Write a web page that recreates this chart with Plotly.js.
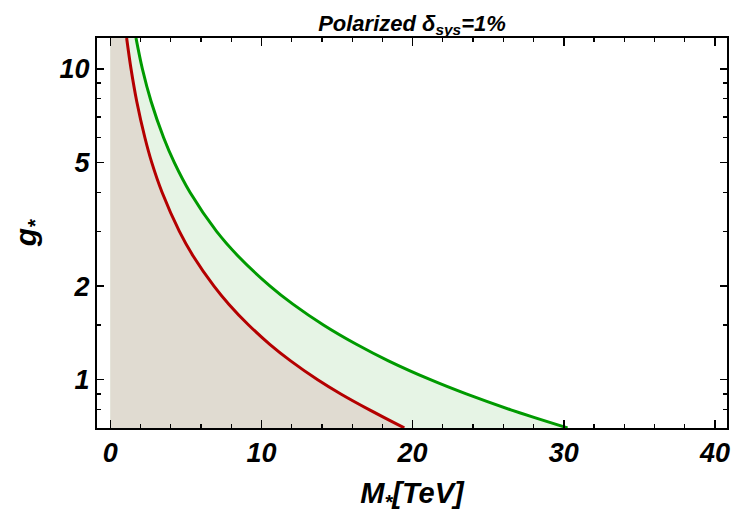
<!DOCTYPE html>
<html>
<head>
<meta charset="utf-8">
<script src="https://cdn.plot.ly/plotly-3.0.1.min.js"></script>
<style>html,body{margin:0;padding:0;background:#fff;}#chart{width:737px;height:513px;}</style>
</head>
<body>
<div id="chart"></div>
<script>
// Red boundary (M in TeV, g*)
const redM = [1.08, 1.37, 1.75, 2.29, 2.74, 3.43, 4.57, 5.48, 6.86, 7.84, 9.15, 10.55, 11.93, 13.72, 15.25, 17.15, 19.45];
const redG = [12.56, 10, 7.85, 6, 5, 4, 3, 2.5, 2, 1.75, 1.5, 1.3, 1.15, 1.0, 0.9, 0.8, 0.70];
// Green boundary
const greenM = [1.70, 2.12, 2.70, 3.53, 4.23, 5.28, 7.03, 8.45, 10.57, 12.08, 14.1, 16.28, 18.4, 21.18, 23.55, 26.5, 30.25];
const greenG = [12.56, 10, 7.85, 6, 5, 4, 3, 2.5, 2, 1.75, 1.5, 1.3, 1.15, 1.0, 0.9, 0.8, 0.70];
// Ticks
const xTicks = [0, 10, 20, 30, 40];
const yTicks = [1, 2, 5, 10];
const yTickText = ['1', '2', '5', '10'];
const yMinor = [0.8, 0.9, 1.5, 3, 4, 6, 7, 8, 9];

const fontFam = '"Liberation Sans", Arial, sans-serif';

const traces = [
  {
    x: greenM, y: greenG, type: 'scatter', mode: 'lines',
    line: {color: '#009a00', width: 3, shape: 'spline', smoothing: 1},
    fill: 'tozerox', fillcolor: '#e6f4e5', hoverinfo: 'skip'
  },
  {
    x: redM, y: redG, type: 'scatter', mode: 'lines',
    line: {color: '#b40000', width: 3, shape: 'spline', smoothing: 1},
    fill: 'tozerox', fillcolor: '#e0dbd1', hoverinfo: 'skip'
  }
];

const layout = {
  width: 737, height: 513,
  margin: {l: 97, r: 10, t: 38, b: 85},
  paper_bgcolor: '#ffffff', plot_bgcolor: '#ffffff',
  showlegend: false,
  font: {family: fontFam, color: '#000'},
  title: {
    text: 'Polarized δ<sub>sys</sub>=1%',
    x: 0.5, xref: 'paper', xanchor: 'center',
    y: 1 - 23/513, yref: 'container', yanchor: 'middle',
    font: {family: fontFam, size: 22, weight: 'bold', style: 'italic', color: '#000'}
  },
  xaxis: {
    range: [-0.88, 40.8],
    tickvals: xTicks, ticktext: xTicks.map(String),
    ticks: 'inside', ticklen: 8, tickwidth: 1.5, tickcolor: '#000',
    minor: {dtick: 2, tick0: 0, ticks: 'inside', ticklen: 4, tickwidth: 1.2, tickcolor: '#000'},
    showline: true, linecolor: '#000', linewidth: 2, mirror: 'ticks',
    showgrid: false, zeroline: false,
    tickfont: {family: fontFam, size: 27, weight: 'bold', style: 'italic', color: '#000'},
    title: {text: 'M<sub>*</sub>[TeV]', standoff: 17,
      font: {family: fontFam, size: 29, weight: 'bold', style: 'italic', color: '#000'}}
  },
  yaxis: {
    type: 'log',
    range: [-0.1552, 1.0989],
    tickvals: yTicks, ticktext: yTickText,
    ticks: 'inside', ticklen: 7, tickwidth: 1.5, tickcolor: '#000',
    minor: {tickvals: yMinor, ticks: 'inside', ticklen: 4, tickwidth: 1.2, tickcolor: '#000'},
    showline: true, linecolor: '#000', linewidth: 2, mirror: 'ticks',
    showgrid: false, zeroline: false,
    tickfont: {family: fontFam, size: 27, weight: 'bold', style: 'italic', color: '#000'},
    title: {text: 'g<sub>*</sub>', standoff: 14,
      font: {family: fontFam, size: 30, weight: 'bold', style: 'italic', color: '#000'}}
  }
};

Plotly.newPlot('chart', traces, layout, {displayModeBar: false, staticPlot: true});
</script>
</body>
</html>
